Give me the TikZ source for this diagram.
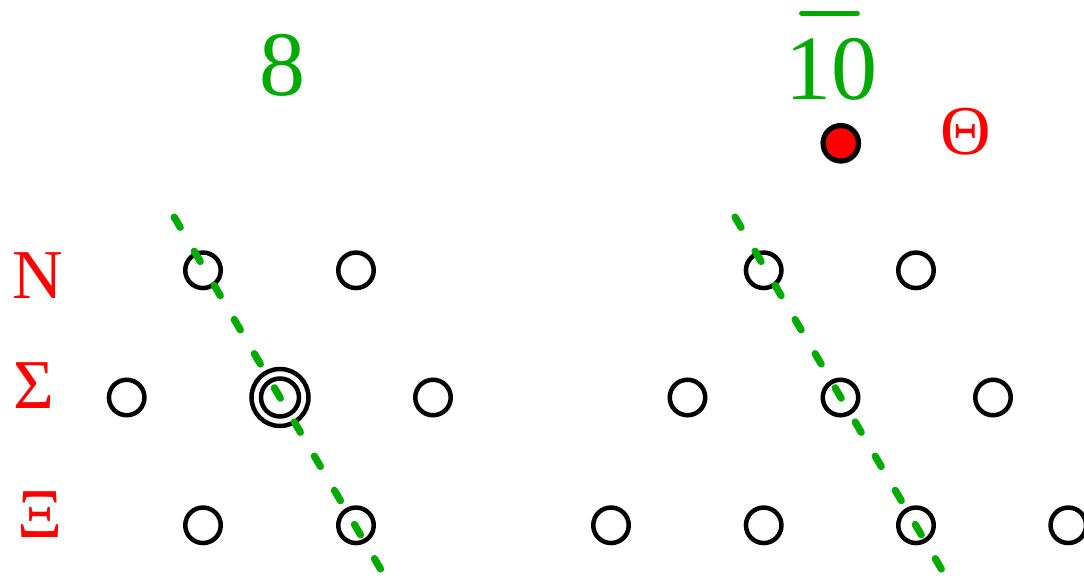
\documentclass[tikz,border=0pt]{standalone}
\usepackage{fontspec}
\setmainfont{Liberation Serif}
\definecolor{repgreen}{RGB}{0,170,0}

\begin{document}
\begin{tikzpicture}[
  x=0.5pt, y=-0.5pt,
  state/.style  = {draw, circle, line width=2.25pt, inner sep=0pt, minimum size=17.75pt},
  inner/.style  = {state, minimum size=19pt},
  ring/.style   = {draw, circle, line width=2.25pt, inner sep=0pt, minimum size=28.5pt},
  pentaq/.style = {state, fill=red, line width=2.6pt},
  multi/.style  = {text=red, font=\fontsize{35}{35}\selectfont, anchor=base, inner sep=0pt},
  rep/.style    = {text=repgreen, font=\fontsize{46}{46}\selectfont, anchor=base, inner sep=0pt},
  uspin/.style  = {draw=repgreen, line width=3.6pt, line cap=round,
                   dash pattern=on 6pt off 13.8pt},
  bar/.style    = {draw=repgreen, line width=2.4pt, line cap=round},
]
  \useasboundingbox (0,0) rectangle (1084,576);

  % row labels on the left
  \node[multi] (lN)  at (38,299)   {N};
  \node[multi] (lS)  at (34,409)   {Σ};
  \node[multi] (lX)  at (40,537.7) {Ξ};

  % octet: rows N / Sigma / Xi, centre doubly occupied
  \node[rep] (eight) at (282.5,96) {8};
  \node[state] (n1) at (203,270.3) {};
  \node[state] (n2) at (356,270.3) {};
  \node[state] (s1) at (126.7,397.5) {};
  \node[inner] (s0) at (280,397.5) {};
  \node[ring]  (s0r) at (280,397.5) {};
  \node[state] (s2) at (433,397.5) {};
  \node[state] (x1) at (203,525.3) {};
  \node[state] (x2) at (356,525.3) {};

  % antidecuplet: Theta on top, then N, Sigma, Xi rows
  \node[rep] (ten) at (831,100) {10};
  \draw[bar] (801.5,13.3) -- (857.5,13.3);
  \node[pentaq] (theta) at (840.8,143.3) {};
  \node[multi]  (ltheta) at (966,155) {Θ};
  \node[state] (rn1) at (763.7,270.3) {};
  \node[state] (rn2) at (916,270.3) {};
  \node[state] (rs1) at (687.5,397.5) {};
  \node[state] (rs0) at (840.5,397.5) {};
  \node[state] (rs2) at (993,397.5) {};
  \node[state] (rx1) at (611,525.3) {};
  \node[state] (rx2) at (763.7,525.3) {};
  \node[state] (rx3) at (916,525.3) {};
  \node[state] (rx4) at (1068.3,525.3) {};

  % U-spin lines through the centres
  \coordinate (ltop) at (174.2,217);
  \coordinate (lbot) at (387,580);
  \coordinate (rtop) at (735,217);
  \coordinate (rbot) at (947.8,580);
  \draw[uspin] (ltop) -- (lbot);
  \draw[uspin] (rtop) -- (rbot);
\end{tikzpicture}
\end{document}
